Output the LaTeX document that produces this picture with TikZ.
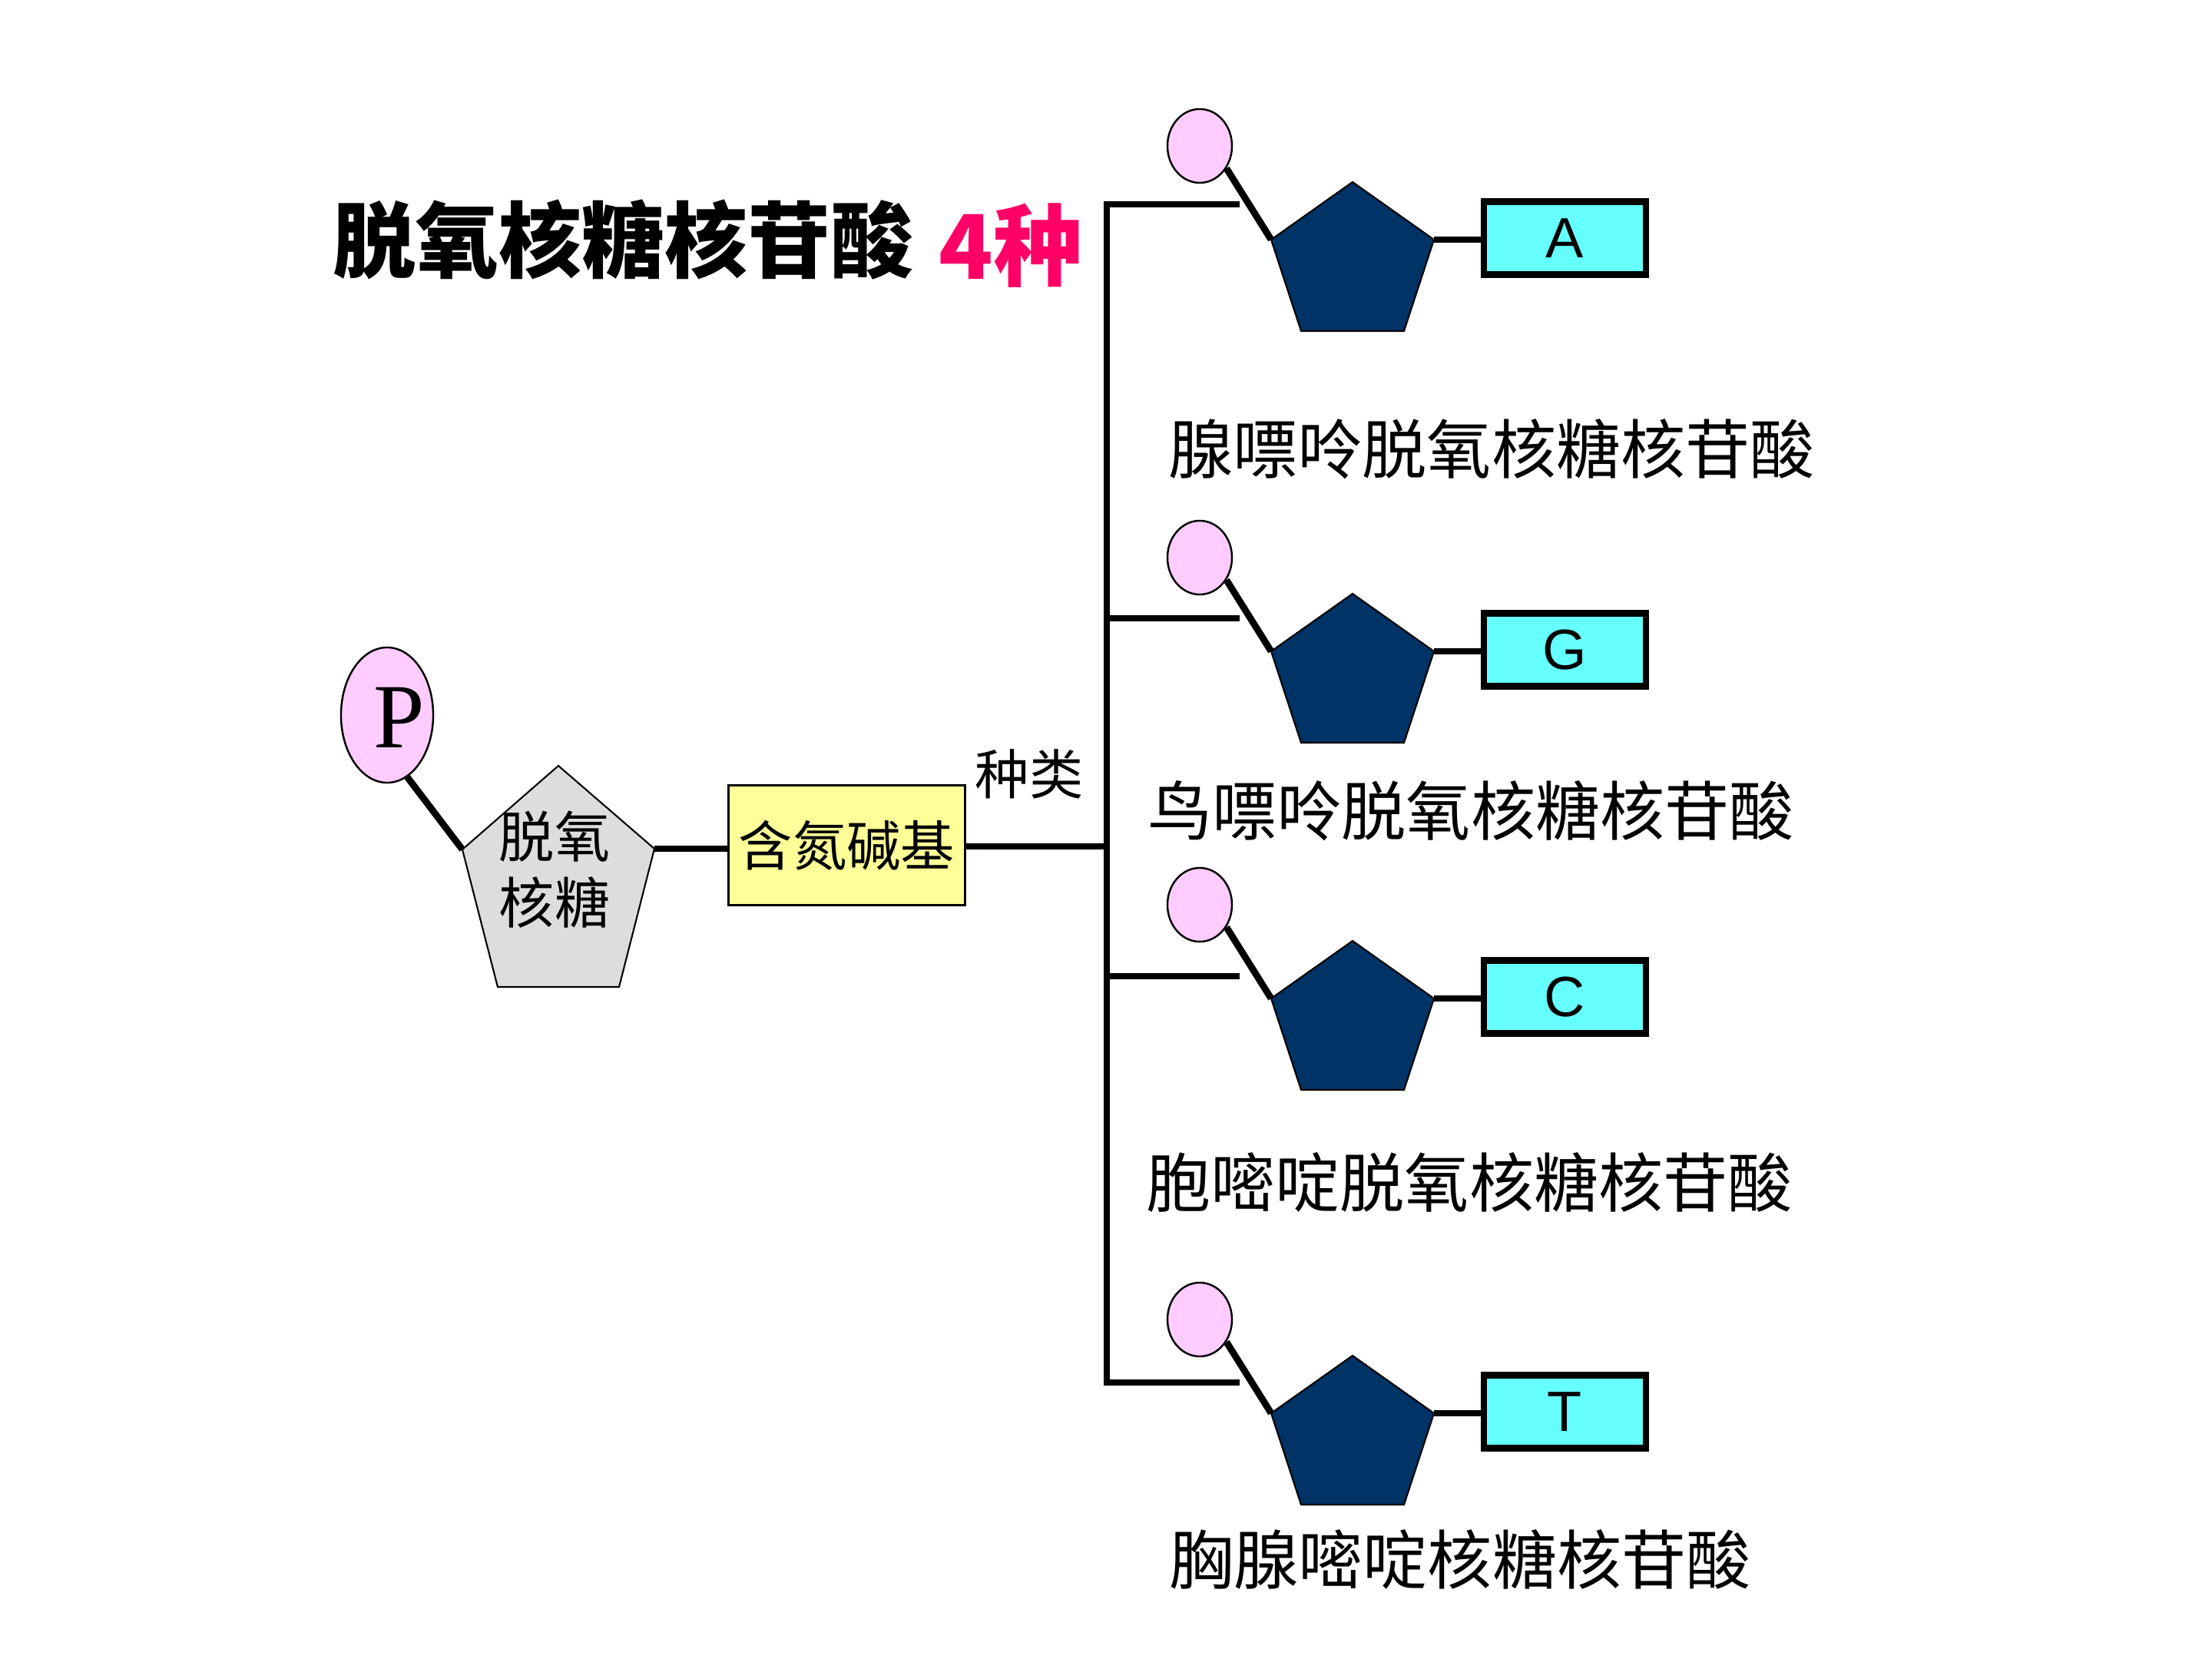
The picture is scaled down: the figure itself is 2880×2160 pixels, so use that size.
\documentclass[tikz,border=0pt]{standalone}
\usepackage{fontspec}
\setmainfont{Liberation Sans}
\newfontfamily\cjk{Noto Sans CJK SC}
\newfontfamily\pserif{Liberation Serif}
\usetikzlibrary{shapes.geometric}
\definecolor{pinkP}{HTML}{FFCCFF}
\definecolor{navyS}{HTML}{003366}
\definecolor{cyanB}{HTML}{66FFFF}
\definecolor{yellowB}{HTML}{FFFF99}
\definecolor{grayS}{HTML}{DDDDDD}
\definecolor{titlePink}{HTML}{FF0066}
\tikzset{
  bond/.style={line width=2.5pt},
  branchline/.style={line width=2.3pt},
  phos/.style={ellipse, draw, fill=pinkP, line width=0.7pt, inner sep=0pt},
  sugar/.style={draw, line width=0.6pt, line join=miter},
  basebox/.style={draw, fill=cyanB, line width=2.3pt, minimum width=2.11cm, minimum height=0.95cm, inner sep=0pt, font=\fontsize{21}{24}\selectfont},
  namelabel/.style={inner sep=0pt, font=\cjk\fontsize{23.9}{26}\selectfont},
}
\begin{document}
\begin{tikzpicture}[x=0.01cm, y=-0.01cm]
\useasboundingbox (0,0) rectangle (2880,2160);
% title
\node[anchor=west, inner sep=0pt, font=\cjk\bfseries\fontsize{30.7}{34}\selectfont] (title) at (433,312) {脱氧核糖核苷酸};
\node[anchor=west, inner sep=0pt, text=titlePink, font=\cjk\bfseries\fontsize{33}{36}\selectfont] (four) at (1222,320) {4种};
% left nucleotide
\node[phos, minimum width=1.2cm, minimum height=1.76cm] (P) at (504,931) {};
\node[inner sep=0pt, font=\pserif\fontsize{34}{38}\selectfont] (Ptxt) at (520,934) {P};
\coordinate (gT) at (727,997);
\coordinate (gUL) at (602,1106);
\coordinate (gUR) at (852,1105);
\coordinate (gBR) at (806,1285);
\coordinate (gBL) at (648,1285);
\draw[sugar, fill=grayS] (gT) -- (gUR) -- (gBR) -- (gBL) -- (gUL) -- cycle;
\node[inner sep=0pt, align=center, font=\cjk\fontsize{20.5}{24.5}\selectfont] (sugartxt) at (722,1132) {脱氧\\核糖};
\draw[bond] (P.-72) -- (gUL);
\node[draw, fill=yellowB, line width=0.9pt, minimum width=3.08cm, minimum height=1.56cm, inner sep=0pt, font=\cjk\fontsize{20}{24}\selectfont] (base) at (1102.5,1100.5) {含氮碱基};
\draw[bond] (gUR) -- (gUR -| base.west);
\coordinate (trunk) at (1441,1102);
\draw[bond] (base.east |- trunk) -- (trunk);
\node[inner sep=0pt, font=\cjk\fontsize{20}{24}\selectfont] (kind) at (1340,1008) {种类};
% bar
\coordinate (b1) at (1441,266);
\coordinate (b4) at (1441,1800);
\draw[bond, line join=miter] (1614,266) -- (b1) -- (b4) -- (1614,1800);
% rows
\foreach \n/\pt/\by/\lx/\ly/\lab in {
  A/237/266/1942/585/腺嘌呤脱氧核糖核苷酸,
  G/773/805/1915/1056/鸟嘌呤脱氧核糖核苷酸,
  C/1225/1271/1913/1539/胞嘧啶脱氧核糖核苷酸,
  T/1765/1800/1901/2030/胸腺嘧啶核糖核苷酸}{
  \draw[branchline] (1441,\by) -- (1614,\by);
  \coordinate (s\n T) at (1761,\pt);
  \coordinate (s\n UL) at (1655,\pt+75);
  \coordinate (s\n UR) at (1867,\pt+75);
  \coordinate (s\n BR) at (1828,\pt+194);
  \coordinate (s\n BL) at (1694,\pt+194);
  \draw[sugar, fill=navyS] (s\n T) -- (s\n UR) -- (s\n BR) -- (s\n BL) -- (s\n UL) -- cycle;
  \node[phos, minimum width=0.84cm, minimum height=0.96cm] (p\n) at (1562,\pt-47) {};
  \draw[bond] (p\n.-40) -- (s\n UL);
  \node[basebox] (n\n) at (2037.5,\pt+73) {\n};
  \draw[bond] (s\n UR) -- (s\n UR -| n\n.west);
  \node[namelabel] (l\n) at (\lx,\ly) {\lab};
}
\end{tikzpicture}
\end{document}
